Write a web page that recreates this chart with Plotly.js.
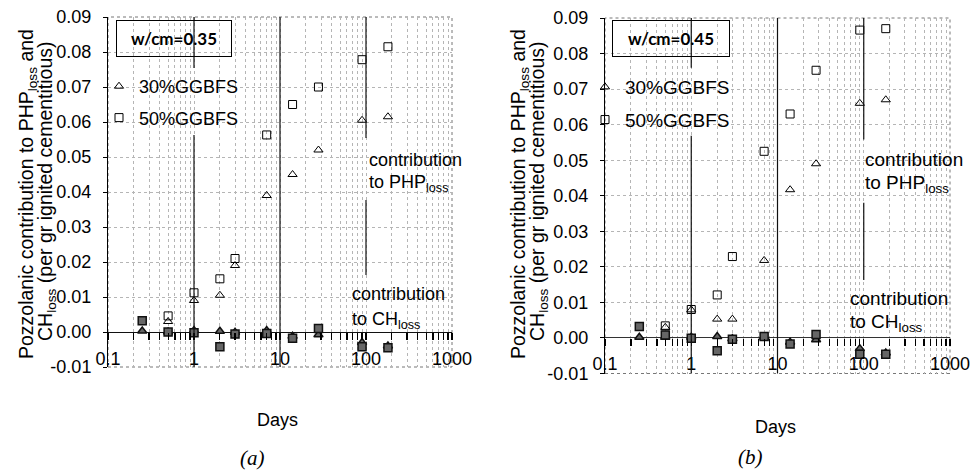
<!DOCTYPE html>
<html>
<head>
<meta charset="utf-8">
<script src="https://cdn.plot.ly/plotly-3.0.1.min.js"></script>
<style>html,body{margin:0;padding:0;background:#fff;}#chart{width:971px;height:471px;}</style>
</head>
<body>
<div id="chart"></div>
<script>
// ---- data ----
const days = [0.25, 0.5, 1, 2, 3, 7, 14, 28, 90, 180];

// (a) w/cm = 0.35
const php30_a = [null, 0.0030, 0.0090, 0.0105, 0.0190, 0.0390, 0.0450, 0.0520, 0.0605, 0.0615];
const php50_a = [null, 0.0046, 0.0112, 0.0152, 0.0210, 0.0563, 0.0650, 0.0700, 0.0778, 0.0815];
const ch30_a  = [0.0003, 0.0000, 0.0004, 0.0002, -0.0001, 0.0004, -0.0012, -0.0008, -0.0030, -0.0040];
const ch50_a  = [0.0032, 0.0000, -0.0002, -0.0042, -0.0006, -0.0004, -0.0018, 0.0010, -0.0042, -0.0045];

// (b) w/cm = 0.45
const php30_b = [null, 0.0030, 0.0079, 0.0053, 0.0053, 0.0218, 0.0417, 0.0490, 0.0660, 0.0670];
const php50_b = [null, 0.0034, 0.0080, 0.0121, 0.0229, 0.0525, 0.0630, 0.0753, 0.0866, 0.0870];
const ch30_b  = [0.0002, 0.0002, 0.0002, 0.0004, -0.0002, 0.0002, -0.0012, -0.0005, -0.0030, -0.0042];
const ch50_b  = [0.0032, 0.0008, -0.0001, -0.0036, -0.0004, 0.0004, -0.0017, 0.0010, -0.0046, -0.0046];

const seriesNames = ['30%GGBFS', '50%GGBFS'];
const xTickVals = [0.1, 1, 10, 100, 1000];
const xTickText = ['0.1', '1', '10', '100', '1000'];
const yTickVals = [-0.01, 0, 0.01, 0.02, 0.03, 0.04, 0.05, 0.06, 0.07, 0.08, 0.09];
const yTickText = ['-0.01', '0.00', '0.01', '0.02', '0.03', '0.04', '0.05', '0.06', '0.07', '0.08', '0.09'];
const panelLabels = ['w/cm=0.35', 'w/cm=0.45'];

// ---- helpers ----
const W = 971, H = 471;
const px = v => v / W;
const py = v => 1 - v / H;
const FONT = 'Liberation Sans, Arial, sans-serif';

function openTrace(y, name, sym, xa, ya, leg) {
  return {x: days, y: y, type: 'scatter', mode: 'markers', name: name,
    xaxis: xa, yaxis: ya, legend: leg, legendgroup: name + leg,
    marker: {symbol: sym, size: 8, color: '#000', line: {width: 1, color: '#000'}},
    hoverinfo: 'x+y'};
}
function filledTrace(y, name, sym, xa, ya) {
  return {x: days, y: y, type: 'scatter', mode: 'markers', name: name, showlegend: false,
    xaxis: xa, yaxis: ya,
    marker: {symbol: sym, size: 8, color: '#666', line: {width: 1.5, color: '#111'}},
    hoverinfo: 'x+y'};
}
// empty carriers so the overlay label axes get their own subplot
function carrier(xa, ya) {
  return {x: [], y: [], type: 'scatter', mode: 'markers', xaxis: xa, yaxis: ya, showlegend: false, hoverinfo: 'skip'};
}

const traces = [
  filledTrace(ch30_a, seriesNames[0] + ' CH', 'triangle-up', 'x', 'y'),
  filledTrace(ch50_a, seriesNames[1] + ' CH', 'square', 'x', 'y'),
  openTrace(php30_a, seriesNames[0], 'triangle-up-open', 'x', 'y', 'legend'),
  openTrace(php50_a, seriesNames[1], 'square-open', 'x', 'y', 'legend'),
  filledTrace(ch30_b, seriesNames[0] + ' CH', 'triangle-up', 'x2', 'y2'),
  filledTrace(ch50_b, seriesNames[1] + ' CH', 'square', 'x2', 'y2'),
  openTrace(php30_b, seriesNames[0], 'triangle-up-open', 'x2', 'y2', 'legend2'),
  openTrace(php50_b, seriesNames[1], 'square-open', 'x2', 'y2', 'legend2'),
  carrier('x5', 'y'), carrier('x6', 'y2')
];

// main x axes: sit on the zero line (tick marks there), carry the dotted log grid
const gridX = (pos) => ({type: 'log', range: [-1, 3], dtick: 'D1', showticklabels: false,
  anchor: 'free', position: pos,
  ticks: 'outside', ticklen: 7, tickwidth: 1.2, tickcolor: '#000',
  showgrid: true, gridcolor: '#b5b5b5', griddash: 'dot', gridwidth: 1, zeroline: false, showline: false});
const gridY = {range: [-0.01, 0.09], tickvals: yTickVals, ticktext: yTickText,
  ticks: 'outside', ticklen: 4, tickcolor: '#000', showline: true, linecolor: '#000', linewidth: 1,
  showgrid: true, gridcolor: '#b5b5b5', griddash: 'dot', gridwidth: 1,
  zeroline: true, zerolinecolor: '#111', zerolinewidth: 1,
  tickfont: {family: FONT, size: 18, color: '#000'}, ticklabelstandoff: 8};
const labelAxis = (over, pos) => ({type: 'log', range: [-1, 3], overlaying: over, anchor: 'free', position: pos,
  tickvals: xTickVals, ticktext: xTickText, ticks: '', showgrid: false, zeroline: false, showline: false,
  tickfont: {family: FONT, size: 18, color: '#000'}});

const xA = [108, 452], xB = [605, 950];
const yA = [367, 17], yB = [373.5, 18];

const layout = {
  width: W, height: H,
  margin: {l: 0, r: 0, t: 0, b: 0},
  paper_bgcolor: '#fff', plot_bgcolor: '#fff',
  font: {family: FONT, size: 18, color: '#000'},
  xaxis: Object.assign(gridX(py(332)), {domain: [px(xA[0]), px(xA[1])]}),
  yaxis: Object.assign({}, gridY, {domain: [py(yA[0]), py(yA[1])], anchor: 'x'}),
  xaxis2: Object.assign(gridX(py(338)), {domain: [px(xB[0]), px(xB[1])]}),
  yaxis2: Object.assign({}, gridY, {domain: [py(yB[0]), py(yB[1])], anchor: 'x2', zerolinecolor: '#333'}),
  xaxis5: labelAxis('x', py(346)),
  xaxis6: labelAxis('x2', py(351)),
  showlegend: true,
  legend: {x: px(99), y: py(68), xanchor: 'left', yanchor: 'top', bgcolor: 'rgba(0,0,0,0)',
    font: {family: FONT, size: 18}, tracegroupgap: 5, itemwidth: 30},
  legend2: {x: px(585), y: py(68), xanchor: 'left', yanchor: 'top', bgcolor: 'rgba(0,0,0,0)',
    font: {family: FONT, size: 19}, tracegroupgap: 5, itemwidth: 30},
  shapes: [],
  annotations: []
};

// frames (dotted) and vertical divider lines
const frame = (xr, yr) => ({type: 'rect', xref: xr + ' domain', yref: yr + ' domain', x0: 0, x1: 1, y0: 0, y1: 1,
  line: {color: '#777', width: 1, dash: 'dot'}, layer: 'below'});
layout.shapes.push(frame('x', 'y'), frame('x2', 'y2'));
const vline = (xr, yr, lx, y0, y1) => ({type: 'line', xref: xr, yref: yr, x0: lx, x1: lx, y0: y0, y1: y1,
  line: {color: '#111', width: 1.2}, layer: 'above'});
// (a)
layout.shapes.push(vline('x', 'y', 1, 0.0754, 0.09), vline('x', 'y', 1, -0.01, 0.0563),
  vline('x', 'y', 10, -0.01, 0.09),
  vline('x', 'y', 100, 0.0554, 0.09), vline('x', 'y', 100, 0.0163, 0.0377));
// (b)
layout.shapes.push(vline('x2', 'y2', 1, 0.0760, 0.09), vline('x2', 'y2', 1, -0.01, 0.0569),
  vline('x2', 'y2', 10, -0.01, 0.09),
  vline('x2', 'y2', 100, 0.0558, 0.09), vline('x2', 'y2', 100, 0.0163, 0.0380));

function ann(text, x, y, opts) {
  return Object.assign({text: text, x: px(x), y: py(y), xref: 'paper', yref: 'paper', showarrow: false,
    xanchor: 'center', yanchor: 'middle', font: {family: FONT, size: 18, color: '#000'}}, opts || {});
}
// panel boxes
layout.annotations.push(
  ann('<b>' + panelLabels[0] + '</b>', 174, 38.5, {font: {family: 'Lato, Carlito, sans-serif', size: 17, color: '#000'},
    bordercolor: '#000', borderwidth: 1, borderpad: 2, width: 110, height: 31}),
  ann('<b>' + panelLabels[1] + '</b>', 671, 38.5, {font: {family: 'Lato, Carlito, sans-serif', size: 17, color: '#000'},
    bordercolor: '#000', borderwidth: 1, borderpad: 2, width: 112, height: 31})
);
// in-plot text
layout.annotations.push(
  ann('contribution', 367, 160, {xanchor: 'left'}),
  ann('to PHP<sub>loss</sub>', 367, 183, {xanchor: 'left'}),
  ann('contribution', 350, 294, {xanchor: 'left'}),
  ann('to CH<sub>loss</sub>', 350, 320, {xanchor: 'left'}),
  ann('contribution', 863, 160, {xanchor: 'left', font: {family: FONT, size: 19, color: '#000'}}),
  ann('to PHP<sub>loss</sub>', 863, 184, {xanchor: 'left', font: {family: FONT, size: 19, color: '#000'}}),
  ann('contribution', 848, 298, {xanchor: 'left', font: {family: FONT, size: 19, color: '#000'}}),
  ann('to CH<sub>loss</sub>', 848, 323, {xanchor: 'left', font: {family: FONT, size: 19, color: '#000'}})
);
// axis titles
const yt1 = 'Pozzolanic contribution to PHP<sub>loss</sub> and';
const yt2 = 'CH<sub>loss</sub> (per gr ignited cementitious)';
layout.annotations.push(
  ann(yt1, 27, 194, {textangle: -90, font: {family: FONT, size: 19.5, color: '#000'}}),
  ann(yt2, 46, 191, {textangle: -90, font: {family: FONT, size: 19.5, color: '#000'}}),
  ann(yt1, 519, 194, {textangle: -90, font: {family: FONT, size: 19.5, color: '#000'}}),
  ann(yt2, 538, 191, {textangle: -90, font: {family: FONT, size: 19.5, color: '#000'}}),
  ann('Days', 277, 420),
  ann('Days', 775, 427),
  ann('<i>(a)</i>', 253, 458, {font: {family: 'Liberation Serif, Times New Roman, serif', size: 21, color: '#000'}}),
  ann('<i>(b)</i>', 750, 457, {font: {family: 'Liberation Serif, Times New Roman, serif', size: 21, color: '#000'}})
);

Plotly.newPlot('chart', traces, layout, {displayModeBar: false, staticPlot: true});
</script>
</body>
</html>
